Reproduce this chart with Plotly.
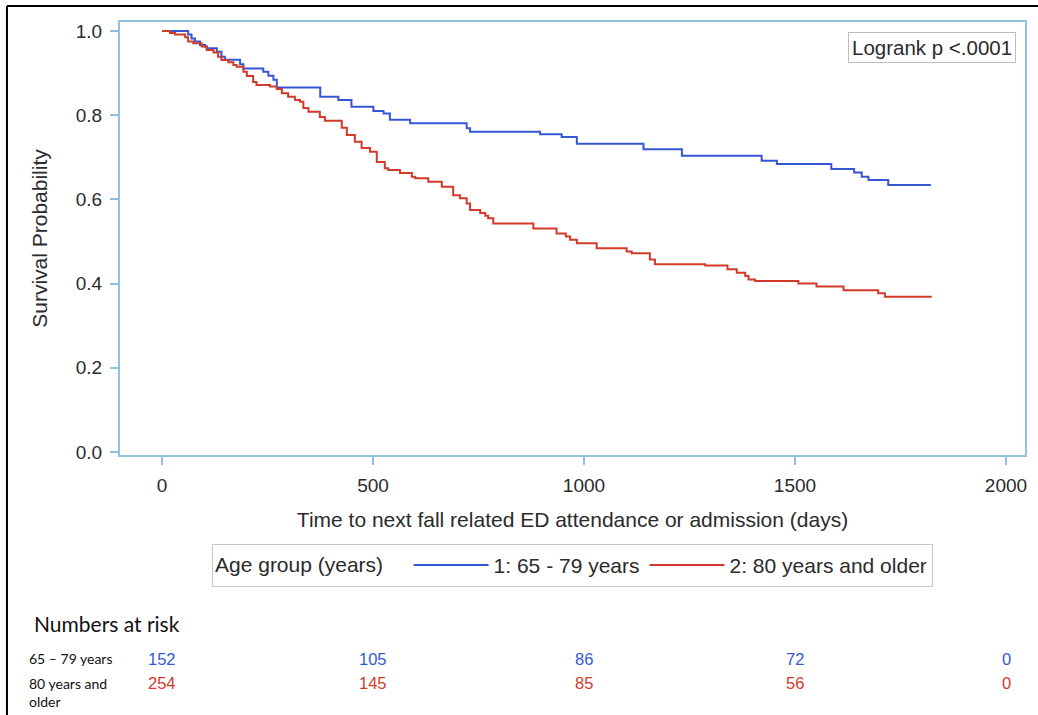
import plotly.graph_objects as go

# ---------------- data ----------------
group_names = ["1: 65 - 79 years", "2: 80 years and older"]

t_young = [0, 62, 70, 78, 90, 102, 106, 130, 141, 149, 185, 193, 240, 252, 264, 272,
           375, 418, 449, 501, 525, 540, 588, 722, 730, 896, 947, 983, 1141, 1232,
           1421, 1457, 1586, 1640, 1658, 1674, 1721, 1822]
s_young = [1.0, 0.992, 0.982, 0.975, 0.967, 0.963, 0.959, 0.951, 0.939, 0.932, 0.921, 0.911,
           0.903, 0.894, 0.884, 0.866, 0.844, 0.836, 0.820, 0.810, 0.804, 0.789, 0.781,
           0.769, 0.761, 0.755, 0.748, 0.732, 0.719, 0.704, 0.692, 0.684, 0.672, 0.664,
           0.654, 0.646, 0.634, 0.634]

t_old = [0, 19, 31, 55, 62, 74, 94, 106, 122, 133, 141, 157, 169, 177, 193, 201, 216, 224,
         256, 272, 284, 299, 315, 327, 335, 347, 374, 386, 426, 438, 457, 473, 493, 509,
         528, 536, 564, 592, 600, 631, 663, 690, 706, 722, 730, 754, 766, 773, 785, 880,
         935, 957, 967, 983, 1030, 1101, 1113, 1156, 1168, 1287, 1340, 1362, 1382, 1390,
         1405, 1508, 1551, 1615, 1697, 1713, 1824]
s_old = [1.0, 0.995, 0.992, 0.985, 0.975, 0.971, 0.963, 0.955, 0.949, 0.939, 0.931, 0.926,
         0.919, 0.915, 0.903, 0.893, 0.879, 0.872, 0.868, 0.862, 0.852, 0.844, 0.836, 0.832,
         0.817, 0.808, 0.796, 0.787, 0.770, 0.753, 0.737, 0.722, 0.713, 0.689, 0.674, 0.670,
         0.663, 0.654, 0.650, 0.642, 0.630, 0.610, 0.603, 0.590, 0.575, 0.568, 0.561, 0.555,
         0.543, 0.531, 0.519, 0.512, 0.504, 0.496, 0.484, 0.476, 0.472, 0.457, 0.446, 0.443,
         0.434, 0.426, 0.418, 0.410, 0.406, 0.400, 0.393, 0.384, 0.377, 0.369, 0.369]

risk_times = [0, 500, 1000, 1500, 2000]
risk_young = [152, 105, 86, 72, 0]
risk_old = [254, 145, 85, 56, 0]
risk_labels = ["65 \u2013 79 years", "80 years and<br>older"]

x_ticks = [0, 500, 1000, 1500, 2000]
y_ticks = [0.0, 0.2, 0.4, 0.6, 0.8, 1.0]

# ---------------- style ----------------
BLUE = "#3557d6"
RED = "#d23a2a"
FRAME = "#93c3dc"
TXT = "#2b2b2b"
FONT = "Arial"
CAL = "Lato"

fig = go.Figure()
fig.add_trace(go.Scatter(x=t_young, y=s_young, mode="lines", line=dict(color=BLUE, width=2, shape="hv"),
                         name=group_names[0]))
fig.add_trace(go.Scatter(x=t_old, y=s_old, mode="lines", line=dict(color=RED, width=2, shape="hv"),
                         name=group_names[1]))

fig.update_layout(
    width=1038, height=715,
    margin=dict(l=120, r=13, t=22, b=260),
    paper_bgcolor="white", plot_bgcolor="white",
    font=dict(family=FONT, color=TXT, size=19),
    showlegend=True,
    legend=dict(orientation="h", x=0.5, xanchor="center", y=-0.255, yanchor="middle",
                title=dict(text="Age group (years)   ", side="left", font=dict(size=21, family=FONT)),
                bordercolor="#c8c8c8", borderwidth=1, font=dict(size=21, family=FONT), itemwidth=75,
                bgcolor="white"),
)
fig.update_xaxes(range=[-99.5, 2045], tickvals=x_ticks, ticktext=[str(v) for v in x_ticks],
                 showline=True, linecolor=FRAME, linewidth=2, mirror=True, showgrid=False,
                 zeroline=False, ticks="outside", ticklen=8, tickcolor=FRAME, tickwidth=1.5,
                 tickfont=dict(size=19, family=FONT), ticklabelstandoff=4,
                 title=dict(text="Time to next fall related ED attendance or admission (days)",
                            font=dict(size=21, family=FONT), standoff=18))
fig.update_yaxes(range=[-0.0071, 1.0214], tickvals=y_ticks, ticktext=[f"{v:.1f}" for v in y_ticks],
                 showline=True, linecolor=FRAME, linewidth=2, mirror=True, showgrid=False,
                 zeroline=False, ticks="outside", ticklen=8, tickcolor=FRAME, tickwidth=1.5,
                 tickfont=dict(size=19, family=FONT), ticklabelstandoff=4,
                 title=dict(text="Survival Probability", font=dict(size=21, family=FONT), standoff=22))

# Logrank box
fig.add_annotation(xref="paper", yref="paper", x=0.990, y=0.977, xanchor="right", yanchor="top",
                   text="Logrank p <.0001", showarrow=False, font=dict(size=20.5, color=TXT, family=FONT),
                   bordercolor="#bdbdbd", borderwidth=1, borderpad=3, bgcolor="white")

# Numbers at risk
fig.add_annotation(xref="paper", yref="paper", x=-0.097, y=-0.388, xanchor="left", yanchor="middle",
                   text="Numbers at risk", showarrow=False,
                   font=dict(family=CAL, size=21, color="#111"))
fig.add_annotation(xref="paper", yref="paper", x=-0.103, y=-0.471, xanchor="left", yanchor="middle",
                   text=risk_labels[0], showarrow=False,
                   font=dict(family=CAL, size=14, color="#111"))
fig.add_annotation(xref="paper", yref="paper", x=-0.103, y=-0.527, xanchor="left", yanchor="top",
                   yshift=10, text=risk_labels[1], showarrow=False, align="left",
                   font=dict(family=CAL, size=14, color="#111"))
for t, a, b in zip(risk_times, risk_young, risk_old):
    fig.add_annotation(xref="x", yref="paper", x=t, y=-0.471, text=str(a), showarrow=False,
                       font=dict(size=16.5, color=BLUE, family=FONT), yanchor="middle")
    fig.add_annotation(xref="x", yref="paper", x=t, y=-0.527, text=str(b), showarrow=False,
                       font=dict(size=16.5, color=RED, family=FONT), yanchor="middle")

# outer frame lines (page decoration)
fig.add_shape(type="line", xref="paper", yref="paper", x0=-0.1249, x1=1.0144, y0=1.0369, y1=1.0369,
              line=dict(color="black", width=2))
fig.add_shape(type="line", xref="paper", yref="paper", x0=-0.1249, x1=-0.1249, y0=1.0369, y1=-0.6166,
              line=dict(color="black", width=2))
fig.add_shape(type="line", xref="paper", yref="paper", x0=0.031, x1=1.0144, y0=-0.6143, y1=-0.6143,
              line=dict(color="#e2e2e2", width=1))

fig.write_html("out.html")
